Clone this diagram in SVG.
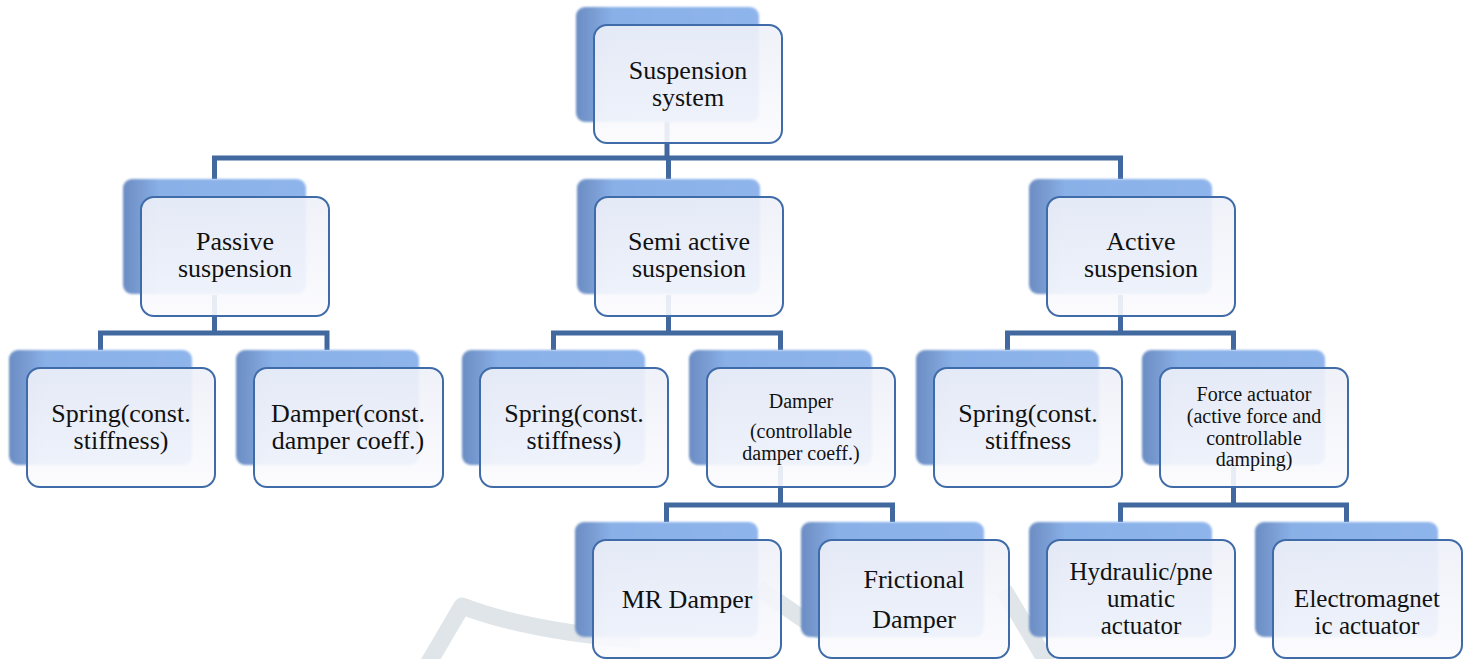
<svg xmlns="http://www.w3.org/2000/svg" width="1467" height="659" viewBox="0 0 1467 659">
<defs>
<linearGradient id="backG" x1="0" y1="0" x2="1" y2="0">
<stop offset="0" stop-color="#6b8dc3"/>
<stop offset="0.1" stop-color="#7a9dd4"/>
<stop offset="0.2" stop-color="#8ab0e8"/>
<stop offset="1" stop-color="#8fb5ec"/>
</linearGradient>
<linearGradient id="frontG" x1="0" y1="0" x2="0" y2="1">
<stop offset="0" stop-color="#eef0f8"/>
<stop offset="1" stop-color="#fbfbfe"/>
</linearGradient>
<filter id="soft" x="-5%" y="-5%" width="110%" height="110%">
<feGaussianBlur stdDeviation="1.3"/>
</filter>
</defs>
<style>
.back{fill:url(#backG);filter:url(#soft)}
.front{fill:url(#frontG);fill-opacity:0.9;stroke:#3f6ca8;stroke-width:2}
.t{font-family:"Liberation Serif","Times New Roman","DejaVu Serif",serif;font-size:26px;fill:#111;text-anchor:middle}
.s{font-size:20px}
.f{font-size:20px}
.m{font-size:25px}
.c{fill:none;stroke:#41689f;stroke-width:5;stroke-linejoin:miter;stroke-linecap:butt}
.wm{fill:none;stroke:#dfe5e8;stroke-width:17;stroke-linejoin:round}
</style>
<rect width="1467" height="659" fill="#ffffff"/>
<g id="watermark">
<path class="wm" d="M428 664 L462 606 Q530 632 640 640"/>
<path class="wm" d="M758 588 L822 632"/>
<path class="wm" d="M1004 590 L1048 664"/>
</g>
<g id="connectors">
<path class="c" d="M667 121 V158"/>
<path class="c" d="M214.5 179 V158 H1120.5 V179 M668.5 158 V179"/>
<path class="c" d="M214.5 295 V333"/>
<path class="c" d="M100.5 350 V333 H327 V350"/>
<path class="c" d="M668.5 295 V333"/>
<path class="c" d="M553.5 350 V333 H780.5 V350"/>
<path class="c" d="M1120.5 295 V333"/>
<path class="c" d="M1007.5 350 V333 H1233.5 V350"/>
<path class="c" d="M780.5 466 V505"/>
<path class="c" d="M666.5 522 V505 H892.5 V522"/>
<path class="c" d="M1233.5 466 V505"/>
<path class="c" d="M1120.5 522 V505 H1346.5 V522"/>
</g>
<g id="n-suspension">
<rect class="back" x="576" y="7" width="183" height="115" rx="9"/>
<rect class="front" x="594" y="25" width="188" height="118" rx="13"/>
<text class="t" x="688" y="79">Suspension</text>
<text class="t" x="688" y="106">system</text>
</g>
<g id="n-passive">
<rect class="back" x="123" y="179" width="183" height="115" rx="9"/>
<rect class="front" x="141" y="197" width="188" height="119" rx="13"/>
<text class="t" x="235" y="250">Passive</text>
<text class="t" x="235" y="277">suspension</text>
</g>
<g id="n-semiactive">
<rect class="back" x="577" y="179" width="183" height="115" rx="9"/>
<rect class="front" x="595" y="197" width="188" height="119" rx="13"/>
<text class="t" x="689" y="250">Semi active</text>
<text class="t" x="689" y="277">suspension</text>
</g>
<g id="n-active">
<rect class="back" x="1029" y="179" width="183" height="115" rx="9"/>
<rect class="front" x="1047" y="197" width="188" height="119" rx="13"/>
<text class="t" x="1141" y="250">Active</text>
<text class="t" x="1141" y="277">suspension</text>
</g>
<g id="n-spring1">
<rect class="back" x="9" y="350" width="183" height="115" rx="9"/>
<rect class="front" x="27" y="368" width="188" height="119" rx="13"/>
<text class="t" x="121" y="422">Spring(const.</text>
<text class="t" x="121" y="449">stiffness)</text>
</g>
<g id="n-damper1">
<rect class="back" x="236" y="350" width="183" height="115" rx="9"/>
<rect class="front" x="254" y="368" width="189" height="119" rx="13"/>
<text class="t" x="348" y="422">Damper(const.</text>
<text class="t" x="348" y="449">damper coeff.)</text>
</g>
<g id="n-spring2">
<rect class="back" x="462" y="350" width="183" height="115" rx="9"/>
<rect class="front" x="480" y="368" width="188" height="119" rx="13"/>
<text class="t" x="574" y="422">Spring(const.</text>
<text class="t" x="574" y="449">stiffness)</text>
</g>
<g id="n-damper2">
<rect class="back" x="689" y="350" width="183" height="115" rx="9"/>
<rect class="front" x="707" y="368" width="188" height="119" rx="13"/>
<text class="t s" x="801" y="408">Damper</text>
<text class="t s" x="801" y="438">(controllable</text>
<text class="t s" x="801" y="460">damper coeff.)</text>
</g>
<g id="n-spring3">
<rect class="back" x="916" y="350" width="183" height="115" rx="9"/>
<rect class="front" x="934" y="368" width="188" height="119" rx="13"/>
<text class="t" x="1028" y="422">Spring(const.</text>
<text class="t" x="1028" y="449">stiffness</text>
</g>
<g id="n-force">
<rect class="back" x="1142" y="350" width="183" height="115" rx="9"/>
<rect class="front" x="1160" y="368" width="188" height="119" rx="13"/>
<text class="t f" x="1254" y="401">Force actuator</text>
<text class="t f" x="1254" y="423">(active force and</text>
<text class="t f" x="1254" y="445">controllable</text>
<text class="t f" x="1254" y="466">damping)</text>
</g>
<g id="n-mr">
<rect class="back" x="575" y="522" width="183" height="115" rx="9"/>
<rect class="front" x="593" y="540" width="188" height="118" rx="13"/>
<text class="t" x="687" y="608">MR Damper</text>
</g>
<g id="n-frictional">
<rect class="back" x="801" y="522" width="183" height="115" rx="9"/>
<rect class="front" x="819" y="540" width="190" height="118" rx="13"/>
<text class="t" x="914" y="588">Frictional</text>
<text class="t" x="914" y="628">Damper</text>
</g>
<g id="n-hydraulic">
<rect class="back" x="1029" y="522" width="183" height="115" rx="9"/>
<rect class="front" x="1047" y="540" width="188" height="118" rx="13"/>
<text class="t m" x="1141" y="580">Hydraulic/pne</text>
<text class="t m" x="1141" y="607">umatic</text>
<text class="t m" x="1141" y="634">actuator</text>
</g>
<g id="n-electro">
<rect class="back" x="1255" y="522" width="183" height="115" rx="9"/>
<rect class="front" x="1273" y="540" width="189" height="118" rx="13"/>
<text class="t m" x="1367" y="607">Electromagnet</text>
<text class="t m" x="1367" y="634">ic actuator</text>
</g>
</svg>
